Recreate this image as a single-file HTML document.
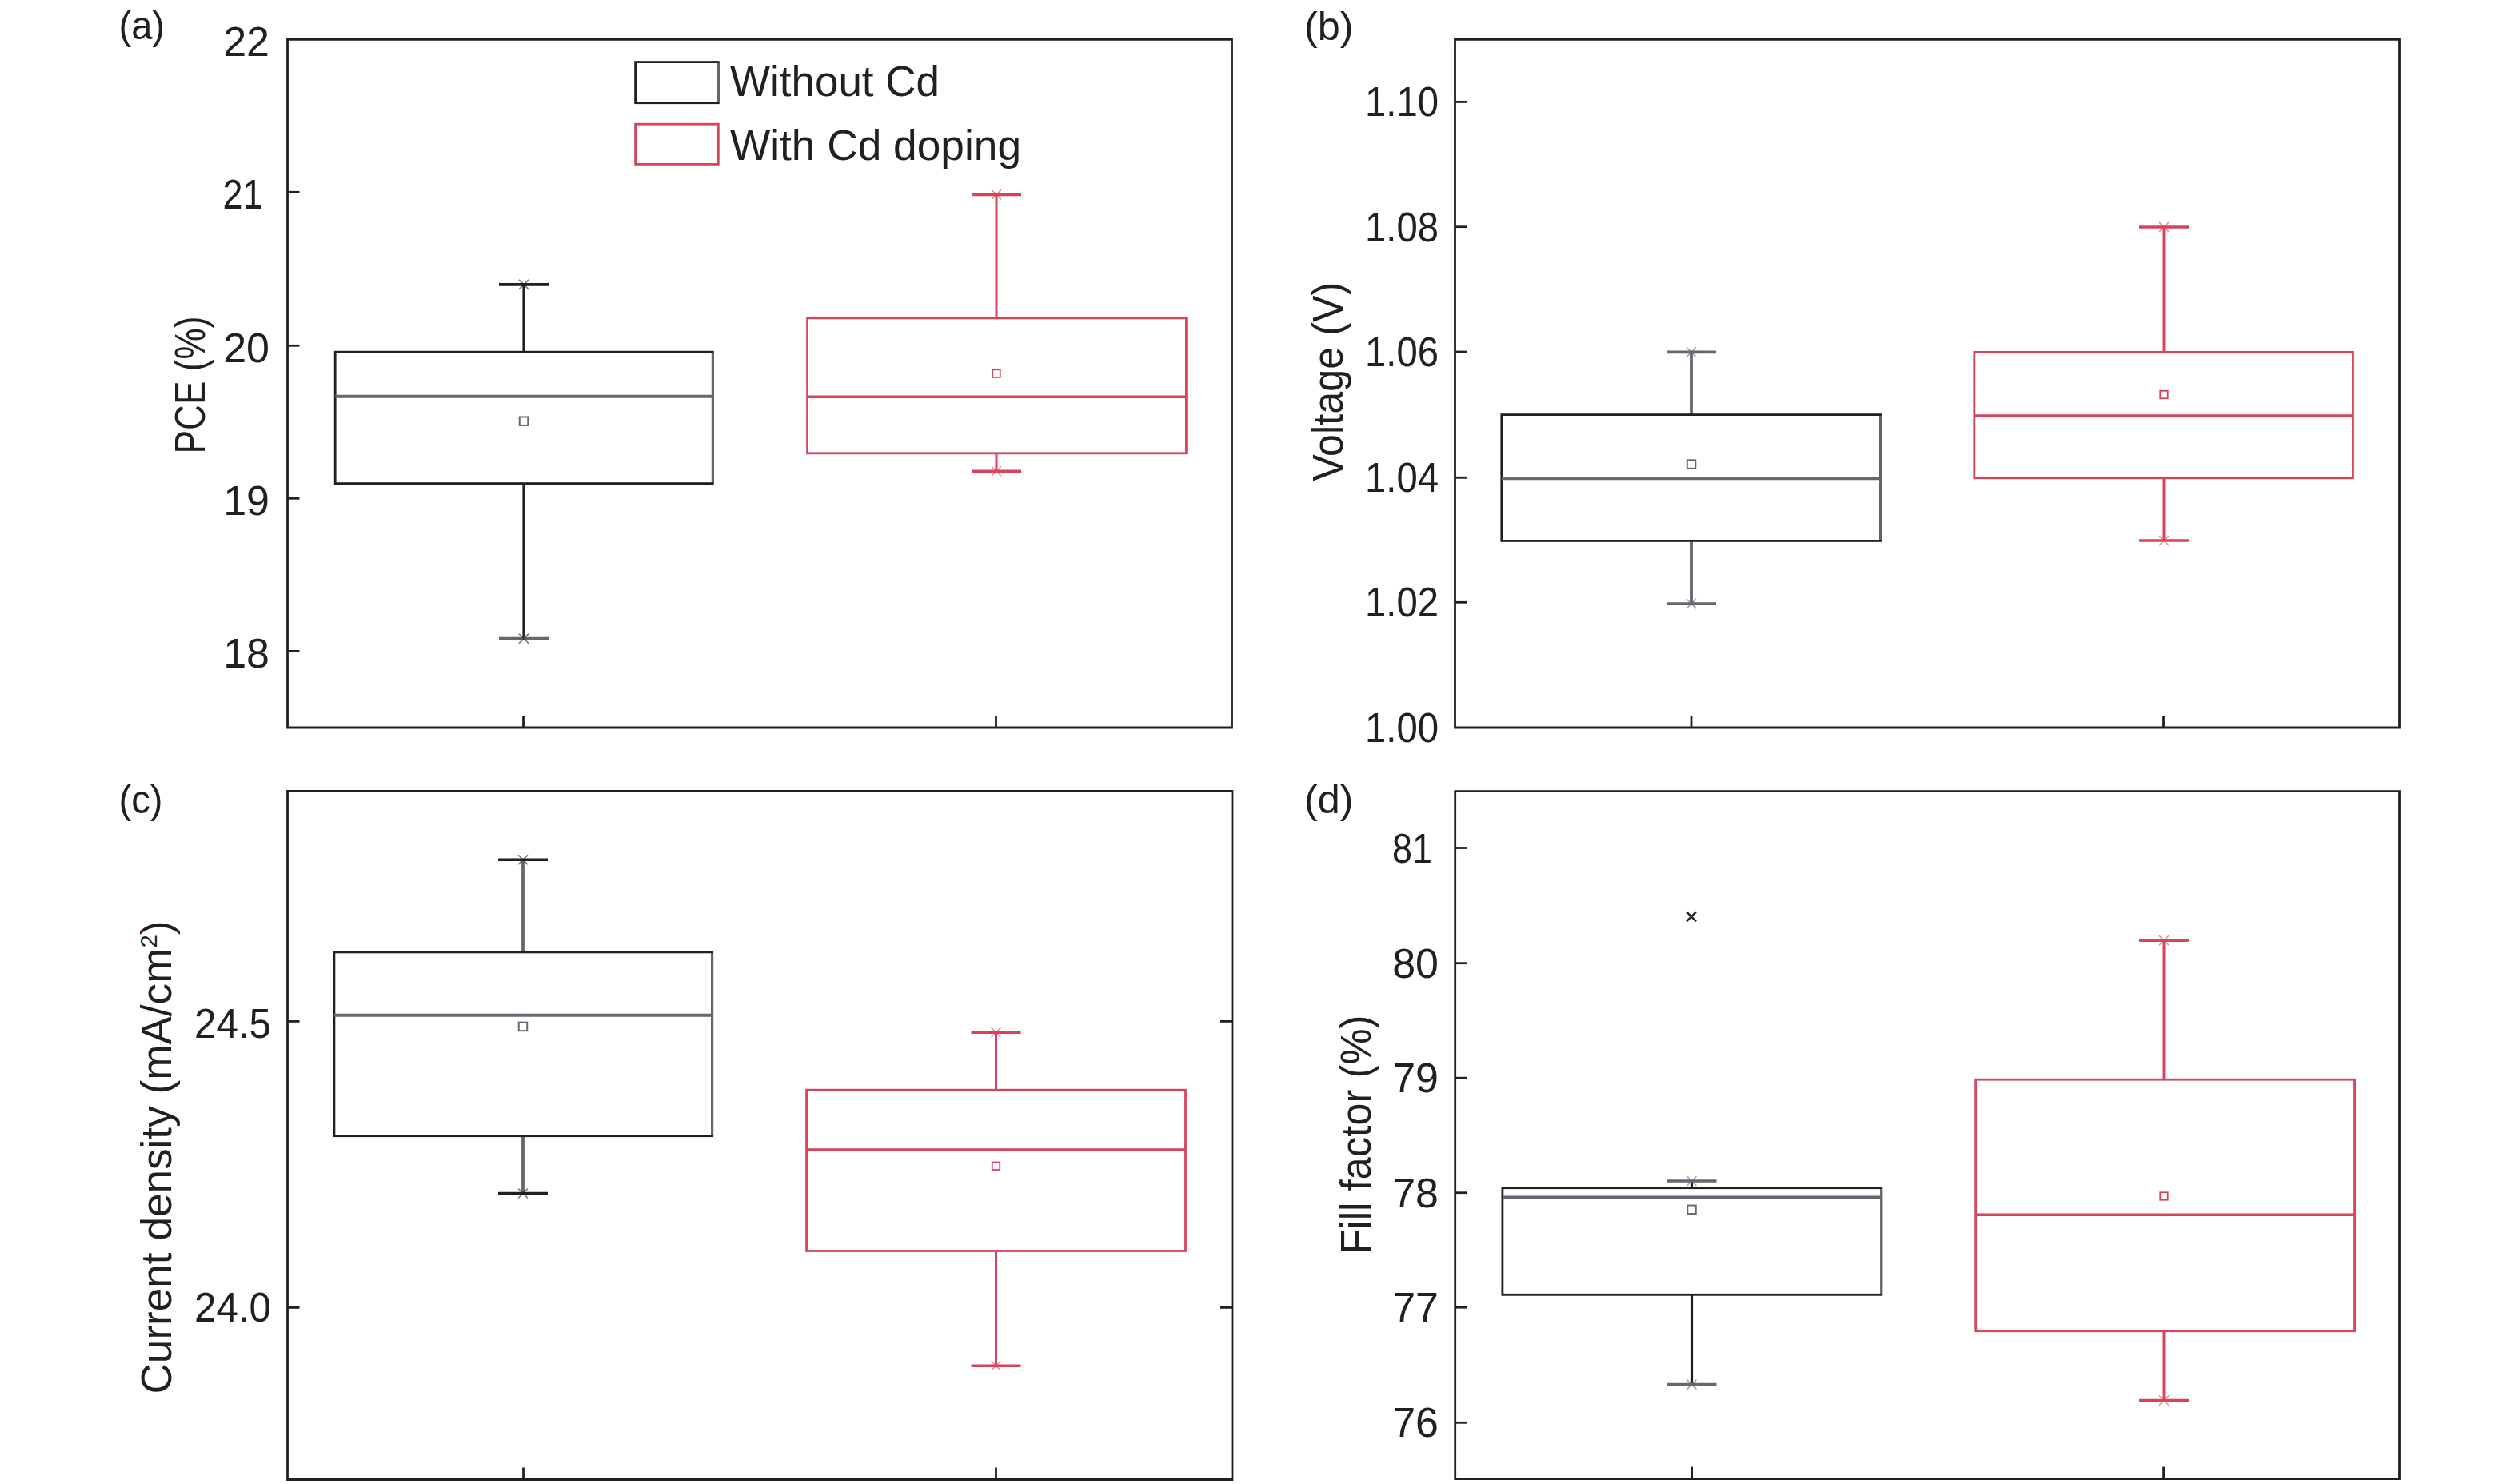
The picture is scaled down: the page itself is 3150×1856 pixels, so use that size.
<!DOCTYPE html><html><head><meta charset="utf-8"><style>html,body{margin:0;padding:0;background:#fff;width:3150px;height:1856px;overflow:hidden}svg{display:block}text{font-family:"Liberation Sans",sans-serif;fill:#231f20}</style></head><body>
<svg width="3150" height="1856" viewBox="0 0 3150 1856">
<rect width="3150" height="1856" fill="#fff"/>
<path d="M359.5 49.4 H1540.5 V910 H359.5 Z" fill="none" stroke="#231f20" stroke-width="2.8" stroke-linejoin="miter"/>
<line x1="359.5" y1="240.3" x2="374.5" y2="240.3" stroke="#231f20" stroke-width="2.8" />
<line x1="359.5" y1="432.3" x2="374.5" y2="432.3" stroke="#231f20" stroke-width="2.8" />
<line x1="359.5" y1="623.3" x2="374.5" y2="623.3" stroke="#231f20" stroke-width="2.8" />
<line x1="359.5" y1="814.4" x2="374.5" y2="814.4" stroke="#231f20" stroke-width="2.8" />
<line x1="654.5" y1="910" x2="654.5" y2="895" stroke="#231f20" stroke-width="2.8" />
<line x1="1245.5" y1="910" x2="1245.5" y2="895" stroke="#231f20" stroke-width="2.8" />
<text x="337" y="70.4" font-size="52" text-anchor="end" >22</text>
<text x="337" y="453.3" font-size="52" text-anchor="end" >20</text>
<text x="337" y="644.3" font-size="52" text-anchor="end" >19</text>
<text x="337" y="835.4" font-size="52" text-anchor="end" >18</text>
<text x="328.5" y="261.3" font-size="52" text-anchor="end" textLength="50" lengthAdjust="spacingAndGlyphs" >21</text>
<text x="148.5" y="49" font-size="50" text-anchor="start" textLength="57.5" lengthAdjust="spacingAndGlyphs" >(a)</text>
<text transform="translate(256,567.5) rotate(-90)" font-size="54" textLength="172" lengthAdjust="spacingAndGlyphs">PCE (%)</text>
<line x1="655" y1="355.9" x2="655" y2="440.2" stroke="#231f20" stroke-width="3.2" />
<line x1="655" y1="604.6" x2="655" y2="798.6" stroke="#231f20" stroke-width="3.2" />
<line x1="624" y1="355.9" x2="686" y2="355.9" stroke="#231f20" stroke-width="3.6" />
<line x1="624" y1="798.6" x2="686" y2="798.6" stroke="#64676f" stroke-width="3.6" />
<path d="M649 349.9 L661 361.9 M661 349.9 L649 361.9" stroke="#231f20" stroke-width="1.6" opacity="0.6"/>
<path d="M649 792.6 L661 804.6 M661 792.6 L649 804.6" stroke="#231f20" stroke-width="1.6" opacity="0.6"/>
<rect x="419.2" y="440.2" width="472.09999999999997" height="164.40000000000003" fill="none" stroke="#231f20" stroke-width="2.8"/>
<line x1="891.3" y1="441.7" x2="891.3" y2="603.1" stroke="#64676f" stroke-width="2.8" />
<line x1="419.2" y1="495.8" x2="891.3" y2="495.8" stroke="#64676f" stroke-width="4" />
<rect x="649.75" y="521.45" width="10.5" height="10.5" fill="none" stroke="#64676f" stroke-width="2.0"/>
<line x1="1246" y1="243.4" x2="1246" y2="397.9" stroke="#d6445c" stroke-width="3.0" />
<line x1="1246" y1="566.8" x2="1246" y2="589.2" stroke="#d6445c" stroke-width="3.0" />
<line x1="1215" y1="243.4" x2="1277" y2="243.4" stroke="#d6445c" stroke-width="3.6" />
<line x1="1215" y1="589.2" x2="1277" y2="589.2" stroke="#d6445c" stroke-width="3.6" />
<path d="M1240 237.4 L1252 249.4 M1252 237.4 L1240 249.4" stroke="#d6445c" stroke-width="1.6" opacity="0.6"/>
<path d="M1240 583.2 L1252 595.2 M1252 583.2 L1240 595.2" stroke="#d6445c" stroke-width="1.6" opacity="0.6"/>
<rect x="1009.6" y="397.9" width="473.80000000000007" height="168.89999999999998" fill="none" stroke="#d6445c" stroke-width="2.8"/>
<line x1="1009.6" y1="496.2" x2="1483.4" y2="496.2" stroke="#d6445c" stroke-width="3.5" />
<rect x="1241.25" y="462.35" width="9.5" height="9.5" fill="none" stroke="#d6445c" stroke-width="1.8"/>
<rect x="794.6" y="77.6" width="103.7" height="51.1" fill="none" stroke="#231f20" stroke-width="2.8"/>
<line x1="898.3" y1="79" x2="898.3" y2="127.3" stroke="#64676f" stroke-width="2.8" />
<rect x="794.6" y="155.2" width="103.7" height="50.2" fill="none" stroke="#d6445c" stroke-width="2.8"/>
<text x="913" y="119.9" font-size="53" text-anchor="start" textLength="262" lengthAdjust="spacingAndGlyphs" >Without Cd</text>
<text x="913" y="200.4" font-size="53" text-anchor="start" textLength="364" lengthAdjust="spacingAndGlyphs" >With Cd doping</text>
<path d="M1819.5 49.4 H3000.5 V910 H1819.5 Z" fill="none" stroke="#231f20" stroke-width="2.8" stroke-linejoin="miter"/>
<line x1="1819.5" y1="127.4" x2="1834.5" y2="127.4" stroke="#231f20" stroke-width="2.8" />
<line x1="1819.5" y1="283.7" x2="1834.5" y2="283.7" stroke="#231f20" stroke-width="2.8" />
<line x1="1819.5" y1="440" x2="1834.5" y2="440" stroke="#231f20" stroke-width="2.8" />
<line x1="1819.5" y1="597.3" x2="1834.5" y2="597.3" stroke="#231f20" stroke-width="2.8" />
<line x1="1819.5" y1="753.3" x2="1834.5" y2="753.3" stroke="#231f20" stroke-width="2.8" />
<line x1="2115" y1="910" x2="2115" y2="895" stroke="#231f20" stroke-width="2.8" />
<line x1="2705.5" y1="910" x2="2705.5" y2="895" stroke="#231f20" stroke-width="2.8" />
<text x="1799" y="145.4" font-size="52" text-anchor="end" textLength="92" lengthAdjust="spacingAndGlyphs" >1.10</text>
<text x="1799" y="301.7" font-size="52" text-anchor="end" textLength="92" lengthAdjust="spacingAndGlyphs" >1.08</text>
<text x="1799" y="458" font-size="52" text-anchor="end" textLength="92" lengthAdjust="spacingAndGlyphs" >1.06</text>
<text x="1799" y="615.3" font-size="52" text-anchor="end" textLength="92" lengthAdjust="spacingAndGlyphs" >1.04</text>
<text x="1799" y="771.3" font-size="52" text-anchor="end" textLength="92" lengthAdjust="spacingAndGlyphs" >1.02</text>
<text x="1799" y="928" font-size="52" text-anchor="end" textLength="92" lengthAdjust="spacingAndGlyphs" >1.00</text>
<text x="1631" y="50" font-size="50" text-anchor="start" textLength="61.5" lengthAdjust="spacingAndGlyphs" >(b)</text>
<text transform="translate(1679,601.7) rotate(-90)" font-size="54" textLength="249" lengthAdjust="spacingAndGlyphs">Voltage (V)</text>
<line x1="2115" y1="440.4" x2="2115" y2="518.6" stroke="#64676f" stroke-width="3.8" />
<line x1="2115" y1="676.4" x2="2115" y2="755.1" stroke="#64676f" stroke-width="3.8" />
<line x1="2084" y1="440.4" x2="2146" y2="440.4" stroke="#64676f" stroke-width="3.6" />
<line x1="2084" y1="755.1" x2="2146" y2="755.1" stroke="#64676f" stroke-width="3.6" />
<path d="M2109 434.4 L2121 446.4 M2121 434.4 L2109 446.4" stroke="#64676f" stroke-width="1.6" opacity="0.6"/>
<path d="M2109 749.1 L2121 761.1 M2121 749.1 L2109 761.1" stroke="#64676f" stroke-width="1.6" opacity="0.6"/>
<rect x="1877.8" y="518.6" width="473.70000000000005" height="157.79999999999995" fill="none" stroke="#231f20" stroke-width="2.8"/>
<line x1="2351.5" y1="520.1" x2="2351.5" y2="674.9" stroke="#64676f" stroke-width="2.8" />
<line x1="1877.8" y1="598.2" x2="2351.5" y2="598.2" stroke="#64676f" stroke-width="4" />
<rect x="2109.75" y="575.35" width="10.5" height="10.5" fill="none" stroke="#64676f" stroke-width="2.0"/>
<line x1="2706" y1="284" x2="2706" y2="440.4" stroke="#d6445c" stroke-width="3.0" />
<line x1="2706" y1="597.8" x2="2706" y2="676" stroke="#d6445c" stroke-width="3.0" />
<line x1="2675" y1="284" x2="2737" y2="284" stroke="#d6445c" stroke-width="3.6" />
<line x1="2675" y1="676" x2="2737" y2="676" stroke="#d6445c" stroke-width="3.6" />
<path d="M2700 278 L2712 290 M2712 278 L2700 290" stroke="#d6445c" stroke-width="1.6" opacity="0.6"/>
<path d="M2700 670 L2712 682 M2712 670 L2700 682" stroke="#d6445c" stroke-width="1.6" opacity="0.6"/>
<rect x="2468.8" y="440.4" width="473.5999999999999" height="157.39999999999998" fill="none" stroke="#d6445c" stroke-width="2.8"/>
<line x1="2468.8" y1="519.9" x2="2942.4" y2="519.9" stroke="#d6445c" stroke-width="3.5" />
<rect x="2701.25" y="488.75" width="9.5" height="9.5" fill="none" stroke="#d6445c" stroke-width="1.8"/>
<path d="M359.5 989.5 H1541 V1850.5 H359.5 Z" fill="none" stroke="#231f20" stroke-width="2.8" stroke-linejoin="miter"/>
<line x1="359.5" y1="1277.4" x2="374.5" y2="1277.4" stroke="#231f20" stroke-width="2.8" />
<line x1="1526" y1="1277.4" x2="1541" y2="1277.4" stroke="#231f20" stroke-width="2.8" />
<line x1="359.5" y1="1635.4" x2="374.5" y2="1635.4" stroke="#231f20" stroke-width="2.8" />
<line x1="1526" y1="1635.4" x2="1541" y2="1635.4" stroke="#231f20" stroke-width="2.8" />
<line x1="654.5" y1="1850.5" x2="654.5" y2="1835.5" stroke="#231f20" stroke-width="2.8" />
<line x1="1245.5" y1="1850.5" x2="1245.5" y2="1835.5" stroke="#231f20" stroke-width="2.8" />
<text x="339" y="1298.4" font-size="52" text-anchor="end" textLength="96" lengthAdjust="spacingAndGlyphs" >24.5</text>
<text x="339" y="1653.4" font-size="52" text-anchor="end" textLength="96" lengthAdjust="spacingAndGlyphs" >24.0</text>
<text x="148.5" y="1017" font-size="50" text-anchor="start" textLength="55" lengthAdjust="spacingAndGlyphs" >(c)</text>
<text transform="translate(214,1743.5) rotate(-90)" font-size="54" textLength="592" lengthAdjust="spacingAndGlyphs">Current density (mA/cm<tspan font-size="30" dy="-18">2</tspan><tspan dy="18">)</tspan></text>
<line x1="654" y1="1075.3" x2="654" y2="1190.9" stroke="#64676f" stroke-width="3.8" />
<line x1="654" y1="1420.7" x2="654" y2="1492.5" stroke="#64676f" stroke-width="3.8" />
<line x1="623" y1="1075.3" x2="685" y2="1075.3" stroke="#231f20" stroke-width="3.6" />
<line x1="623" y1="1492.5" x2="685" y2="1492.5" stroke="#231f20" stroke-width="3.6" />
<path d="M648 1069.3 L660 1081.3 M660 1069.3 L648 1081.3" stroke="#231f20" stroke-width="1.6" opacity="0.6"/>
<path d="M648 1486.5 L660 1498.5 M660 1486.5 L648 1498.5" stroke="#231f20" stroke-width="1.6" opacity="0.6"/>
<rect x="417.9" y="1190.9" width="472.80000000000007" height="229.79999999999995" fill="none" stroke="#231f20" stroke-width="2.8"/>
<line x1="890.7" y1="1192.4" x2="890.7" y2="1419.2" stroke="#64676f" stroke-width="2.8" />
<line x1="417.9" y1="1269.7" x2="890.7" y2="1269.7" stroke="#64676f" stroke-width="4" />
<rect x="648.75" y="1278.65" width="10.5" height="10.5" fill="none" stroke="#64676f" stroke-width="2.0"/>
<line x1="1245.5" y1="1291.3" x2="1245.5" y2="1363.2" stroke="#d6445c" stroke-width="3.0" />
<line x1="1245.5" y1="1564.5" x2="1245.5" y2="1708.3" stroke="#d6445c" stroke-width="3.0" />
<line x1="1214.5" y1="1291.3" x2="1276.5" y2="1291.3" stroke="#d6445c" stroke-width="3.6" />
<line x1="1214.5" y1="1708.3" x2="1276.5" y2="1708.3" stroke="#d6445c" stroke-width="3.6" />
<path d="M1239.5 1285.3 L1251.5 1297.3 M1251.5 1285.3 L1239.5 1297.3" stroke="#d6445c" stroke-width="1.6" opacity="0.6"/>
<path d="M1239.5 1702.3 L1251.5 1714.3 M1251.5 1702.3 L1239.5 1714.3" stroke="#d6445c" stroke-width="1.6" opacity="0.6"/>
<rect x="1008.6" y="1363.2" width="473.9" height="201.29999999999995" fill="none" stroke="#d6445c" stroke-width="2.8"/>
<line x1="1008.6" y1="1437.9" x2="1482.5" y2="1437.9" stroke="#d6445c" stroke-width="3.5" />
<rect x="1240.75" y="1453.55" width="9.5" height="9.5" fill="none" stroke="#d6445c" stroke-width="1.8"/>
<path d="M1819.7 989.7 H3000.5 V1849.6 H1819.7 Z" fill="none" stroke="#231f20" stroke-width="2.8" stroke-linejoin="miter"/>
<line x1="1819.7" y1="1060.5" x2="1834.7" y2="1060.5" stroke="#231f20" stroke-width="2.8" />
<line x1="1819.7" y1="1204.7" x2="1834.7" y2="1204.7" stroke="#231f20" stroke-width="2.8" />
<line x1="1819.7" y1="1348.2" x2="1834.7" y2="1348.2" stroke="#231f20" stroke-width="2.8" />
<line x1="1819.7" y1="1491.7" x2="1834.7" y2="1491.7" stroke="#231f20" stroke-width="2.8" />
<line x1="1819.7" y1="1635.2" x2="1834.7" y2="1635.2" stroke="#231f20" stroke-width="2.8" />
<line x1="1819.7" y1="1779.3" x2="1834.7" y2="1779.3" stroke="#231f20" stroke-width="2.8" />
<line x1="2115.6" y1="1849.6" x2="2115.6" y2="1834.6" stroke="#231f20" stroke-width="2.8" />
<line x1="2705.6" y1="1849.6" x2="2705.6" y2="1834.6" stroke="#231f20" stroke-width="2.8" />
<text x="1799" y="1222.7" font-size="52" text-anchor="end" >80</text>
<text x="1799" y="1366.2" font-size="52" text-anchor="end" >79</text>
<text x="1799" y="1509.7" font-size="52" text-anchor="end" >78</text>
<text x="1799" y="1653.2" font-size="52" text-anchor="end" >77</text>
<text x="1799" y="1797.3" font-size="52" text-anchor="end" >76</text>
<text x="1791" y="1078.5" font-size="52" text-anchor="end" textLength="50" lengthAdjust="spacingAndGlyphs" >81</text>
<text x="1631" y="1017" font-size="50" text-anchor="start" textLength="61.5" lengthAdjust="spacingAndGlyphs" >(d)</text>
<text transform="translate(1714.3,1568.5) rotate(-90)" font-size="54" textLength="299" lengthAdjust="spacingAndGlyphs">Fill factor (%)</text>
<line x1="2115.5" y1="1477" x2="2115.5" y2="1485.7" stroke="#231f20" stroke-width="3.2" />
<line x1="2115.5" y1="1619.3" x2="2115.5" y2="1731.6" stroke="#231f20" stroke-width="3.2" />
<line x1="2084.5" y1="1477" x2="2146.5" y2="1477" stroke="#64676f" stroke-width="3.6" />
<line x1="2084.5" y1="1731.6" x2="2146.5" y2="1731.6" stroke="#64676f" stroke-width="3.6" />
<path d="M2109.5 1471 L2121.5 1483 M2121.5 1471 L2109.5 1483" stroke="#64676f" stroke-width="1.6" opacity="0.6"/>
<path d="M2109.5 1725.6 L2121.5 1737.6 M2121.5 1725.6 L2109.5 1737.6" stroke="#64676f" stroke-width="1.6" opacity="0.6"/>
<rect x="1878.9" y="1485.7" width="473.9000000000001" height="133.5999999999999" fill="none" stroke="#231f20" stroke-width="2.8"/>
<line x1="2352.8" y1="1487.2" x2="2352.8" y2="1617.8" stroke="#64676f" stroke-width="2.8" />
<line x1="1878.9" y1="1497.4" x2="2352.8" y2="1497.4" stroke="#64676f" stroke-width="4" />
<rect x="2110.25" y="1507.55" width="10.5" height="10.5" fill="none" stroke="#64676f" stroke-width="2.0"/>
<path d="M2109 1140.3 L2121 1152.3 M2121 1140.3 L2109 1152.3" stroke="#231f20" stroke-width="2.4"/>
<line x1="2706" y1="1176.3" x2="2706" y2="1350.2" stroke="#d6445c" stroke-width="3.0" />
<line x1="2706" y1="1664.7" x2="2706" y2="1751.5" stroke="#d6445c" stroke-width="3.0" />
<line x1="2675" y1="1176.3" x2="2737" y2="1176.3" stroke="#d6445c" stroke-width="3.6" />
<line x1="2675" y1="1751.5" x2="2737" y2="1751.5" stroke="#d6445c" stroke-width="3.6" />
<path d="M2700 1170.3 L2712 1182.3 M2712 1170.3 L2700 1182.3" stroke="#d6445c" stroke-width="1.6" opacity="0.6"/>
<path d="M2700 1745.5 L2712 1757.5 M2712 1745.5 L2700 1757.5" stroke="#d6445c" stroke-width="1.6" opacity="0.6"/>
<rect x="2470.7" y="1350.2" width="473.9000000000001" height="314.5" fill="none" stroke="#d6445c" stroke-width="2.8"/>
<line x1="2470.7" y1="1519.3" x2="2944.6" y2="1519.3" stroke="#d6445c" stroke-width="3.5" />
<rect x="2701.25" y="1491.25" width="9.5" height="9.5" fill="none" stroke="#d6445c" stroke-width="1.8"/>
</svg></body></html>
